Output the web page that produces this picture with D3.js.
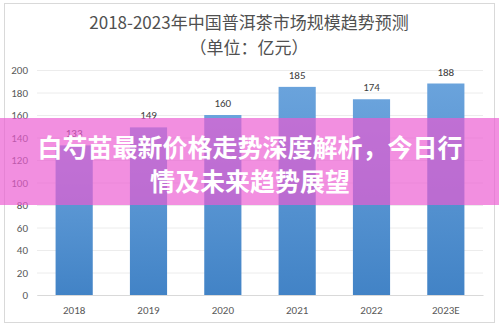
<!DOCTYPE html>
<html><head><meta charset="utf-8">
<script src="https://cdn.jsdelivr.net/npm/d3@7/dist/d3.min.js"></script>
<style>
html,body{margin:0;padding:0;background:#fff;}
svg{display:block;font-family:"Noto Sans CJK SC","Microsoft YaHei",sans-serif;}
</style></head><body>
<svg id="c" width="499" height="327"></svg>
<script>
const categories = ["2018","2019","2020","2021","2022","2023E"];
const values = [133,149,160,185,174,188];
const yTicks = [0,20,40,60,80,100,120,140,160,180,200];
const title1 = "2018-2023年中国普洱茶市场规模趋势预测";
const title2 = "（单位：亿元）";
const overlayLines = ["白芍苗最新价格走势深度解析，今日行","情及未来趋势展望"];

const svg = d3.select("#c");
const W = 499, H = 327;
const m = {left:37, right:16, top:70, bottom:32};

svg.append("rect").attr("x",4.5).attr("y",3.5).attr("width",490).attr("height",319)
  .attr("fill","#fff").attr("stroke","#d9d9d9");

const x = d3.scaleBand().domain(categories).range([m.left, W-m.right]).paddingInner(0.5).paddingOuter(0.25);
const y = d3.scaleLinear().domain([0,200]).range([H-m.bottom, m.top]);

const defs = svg.append("defs");
const g = defs.append("linearGradient").attr("id","bg").attr("x1",0).attr("y1",0).attr("x2",0).attr("y2",1);
g.append("stop").attr("offset","0%").attr("stop-color","#6aa3dc");
g.append("stop").attr("offset","100%").attr("stop-color","#4283c6");

// grid
const grid = svg.append("g").attr("transform",`translate(${m.left},0)`)
  .call(d3.axisLeft(y).tickValues(yTicks).tickSize(-(W-m.left-m.right)).tickFormat(""));
grid.select(".domain").remove();
grid.selectAll("line").attr("stroke","#ececec");

// y labels
const ya = svg.append("g").attr("transform",`translate(${m.left},0)`)
  .call(d3.axisLeft(y).tickValues(yTicks).tickSize(0).tickPadding(9));
ya.select(".domain").remove();
ya.selectAll("text").attr("fill","#595959").style("font-size","11px").style("font-family","Calibri,Carlito,'Liberation Sans',sans-serif");

// x labels
const xa = svg.append("g").attr("transform",`translate(0,${H-m.bottom})`)
  .call(d3.axisBottom(x).tickSize(0).tickPadding(11));
xa.select(".domain").attr("stroke","#d9d9d9");
xa.selectAll("text").attr("fill","#595959").style("font-size","11px").style("font-family","Calibri,Carlito,'Liberation Sans',sans-serif");

// bars
svg.append("g").selectAll("rect").data(values).join("rect")
  .attr("x",(d,i)=>x(categories[i])).attr("width",x.bandwidth())
  .attr("y",d=>y(d)).attr("height",d=>y(0)-y(d)).attr("fill","url(#bg)");

svg.append("g").selectAll("text").data(values).join("text")
  .attr("x",(d,i)=>x(categories[i])+x.bandwidth()/2).attr("y",d=>y(d)-8)
  .attr("text-anchor","middle").attr("fill","#404040").style("font-size","11px")
  .style("font-family","Calibri,Carlito,'Liberation Sans',sans-serif").text(d=>d);

// titles
svg.append("text").attr("x",249).attr("y",29).attr("text-anchor","middle")
  .attr("fill","#505050").style("font-size","17px").text(title1);
svg.append("text").attr("x",249).attr("y",54).attr("text-anchor","middle")
  .attr("fill","#505050").style("font-size","17px").text(title2);

// overlay
svg.append("rect").attr("x",0).attr("y",118).attr("width",W).attr("height",87)
  .attr("fill","rgb(236,90,209)").attr("fill-opacity",0.68);
svg.append("g").selectAll("text").data(overlayLines).join("text")
  .attr("x",250).attr("y",(d,i)=>157+i*34).attr("text-anchor","middle")
  .attr("fill","#fff").style("font-size","25px").style("font-weight","bold").text(d=>d);
</script>
</body></html>
